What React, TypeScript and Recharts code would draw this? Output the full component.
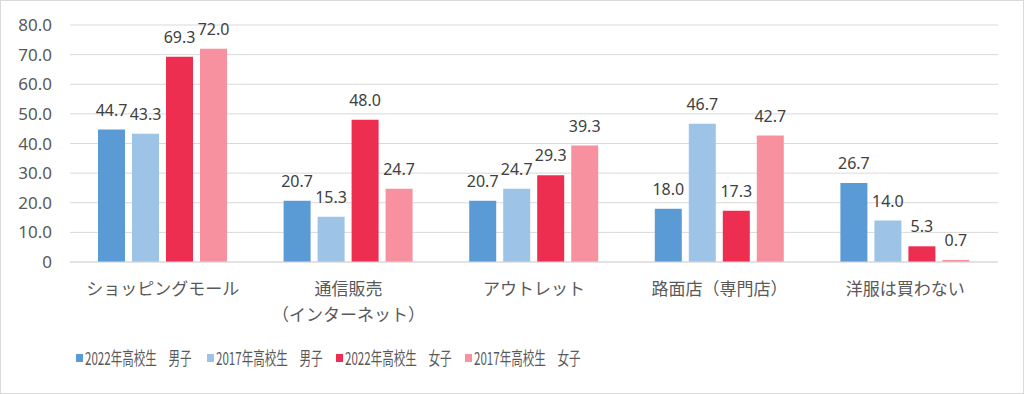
import React from 'react';
import { BarChart, Bar, XAxis, YAxis, CartesianGrid, Legend, LabelList } from 'recharts';

const categories = ['ショッピングモール', '通信販売\n（インターネット）', 'アウトレット', '路面店（専門店）', '洋服は買わない'];
const boys2022 = [44.7, 20.7, 20.7, 18.0, 26.7];
const boys2017 = [43.3, 15.3, 24.7, 46.7, 14.0];
const girls2022 = [69.3, 48.0, 29.3, 17.3, 5.3];
const girls2017 = [72.0, 24.7, 39.3, 42.7, 0.7];
const yTicks = [0, 10, 20, 30, 40, 50, 60, 70, 80];

const seriesNames = ['2022年高校生　男子', '2017年高校生　男子', '2022年高校生　女子', '2017年高校生　女子'];
const colors = ['#5B9BD5', '#9DC3E6', '#EE2E50', '#F8919F'];

const data = categories.map((c, i) => ({
  name: c,
  b22: boys2022[i],
  b17: boys2017[i],
  g22: girls2022[i],
  g17: girls2017[i],
}));
const keys = ['b22', 'b17', 'g22', 'g17'];

const NUM_FONT = "'Noto Sans', 'Noto Sans CJK JP', sans-serif";
const JP_FONT = "'Noto Sans CJK JP', sans-serif";

const XTick = (props: any) => {
  const { x, y, payload } = props;
  const lines = String(payload.value).split('\n');
  return (
    <text x={x} y={y} textAnchor="middle" fill="#595959" fontSize={17} fontFamily={JP_FONT}>
      {lines.map((l: string, i: number) => (
        <tspan key={i} x={x} dy={i === 0 ? 25 : 26}>{l}</tspan>
      ))}
    </text>
  );
};

const LegendContent = () => (
  <div style={{ display: 'flex', height: 40, alignItems: 'center', paddingLeft: 75, boxSizing: 'border-box' }}>
    {seriesNames.map((n, i) => (
      <div key={n} style={{ width: i === 0 ? 131 : 129, flexShrink: 0, display: 'flex', alignItems: 'center', whiteSpace: 'nowrap', overflow: 'visible' }}>
        <span style={{ display: 'inline-block', flexShrink: 0, width: 7, height: 8, background: colors[i], marginRight: 2 }} />
        <span style={{ display: 'inline-block', flexShrink: 0, fontFamily: JP_FONT, fontSize: 17, lineHeight: '20px', color: '#595959', transform: 'scale(0.68, 1.05)', transformOrigin: 'left center' }}>{n}</span>
      </div>
    ))}
  </div>
);

export default function App() {
  return (
    <div style={{ position: 'absolute', left: 0, top: 0, width: 1024, height: 394, border: '1px solid #d9d9d9', boxSizing: 'border-box', background: '#fff' }}>
      <BarChart
        width={1022}
        height={392}
        data={data}
        margin={{ top: 24, right: 25, bottom: 15, left: -1 }}
        barCategoryGap="15.5%"
        barGap={7}
      >
        <CartesianGrid vertical={false} stroke="#d9d9d9" />
        <XAxis
          dataKey="name"
          height={76}
          tick={<XTick />}
          tickLine={false}
          axisLine={{ stroke: '#d9d9d9' }}
          interval={0}
        />
        <YAxis
          width={70}
          domain={[0, 80]}
          ticks={yTicks}
          tickFormatter={(v: number) => (v === 0 ? '0' : v.toFixed(1))}
          tick={{ fill: '#595959', fontSize: 17, fontFamily: NUM_FONT }}
          tickLine={false}
          axisLine={false}
          tickMargin={12}
        />
        <Legend verticalAlign="bottom" content={<LegendContent />} wrapperStyle={{ left: 0, width: 1022 }} />
        {keys.map((k, i) => (
          <Bar key={k} dataKey={k} name={seriesNames[i]} fill={colors[i]} barSize={27} isAnimationActive={false}>
            <LabelList
              dataKey={k}
              position="top"
              offset={14}
              formatter={(v: any) => Number(v).toFixed(1)}
              style={{ fill: '#404040', fontSize: 16, fontFamily: NUM_FONT }}
            />
          </Bar>
        ))}
      </BarChart>
    </div>
  );
}
